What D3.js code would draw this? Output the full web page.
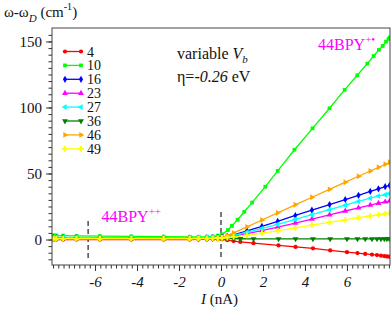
<!DOCTYPE html>
<html>
<head>
<meta charset="utf-8">
<script src="https://cdn.jsdelivr.net/npm/d3@7"></script>
<style>
  body { margin: 0; background: #fff; }
  text { font-family: "Liberation Serif", "Times New Roman", serif; }
</style>
</head>
<body>
<div id="chart"></div>
<script>
// series names (legend) and colours
var names = ["4", "10", "16", "23", "27", "36", "46", "49"]
var colors = ["#ff0000", "#00ff00", "#0000ff", "#ff00ff", "#00ffff", "#008000", "#ffa500", "#ffff00"]
var shapes = ["circle", "square", "diamond", "triUp", "triLeft", "triDown", "triRight", "plus"]

// current values (nA)
var iNeg = [-7.97, -7.84, -7.52, -6.88, -5.77, -4.27, -2.73, -1.49, -1.07, -0.67, -0.4, -0.15]
var iPosGreen = [0.05, 0.33, 0.52, 0.79, 1.11, 1.48, 2.11, 2.70, 3.50, 4.36, 5.17, 5.89, 6.49, 6.97, 7.27, 7.52, 7.70, 7.86, 7.98, 8.04]
var iPosMid = [0.05, 0.3, 0.6, 1.24, 1.95, 2.7, 3.54, 4.33, 5.17, 5.92, 6.55, 7.11, 7.5, 7.82, 8.03]
var iPosFlat = [0.05, 0.3, 0.6, 0.92, 1.55, 2.74, 3.55, 4.38, 5.2, 6.0, 6.5, 6.87, 7.19, 7.43, 7.62, 7.78, 7.9, 8.01]

// shift omega - omega_D (cm-1), negative side then positive side
var neg4  = [0.0, 0.0, 0.0, 0.0, 0.0, 0.0, 0.0, 0.0, 0.1, 0.1, 0.2, 0.2]
var neg10 = [3.2, 3.1, 3.0, 2.8, 2.6, 2.4, 2.2, 2.0, 2.0, 2.1, 2.4, 3.0]
var neg16 = [1.2, 1.2, 1.2, 1.1, 1.1, 1.1, 1.1, 1.1, 1.1, 1.2, 1.3, 1.4]
var neg23 = [1.0, 1.0, 1.0, 1.0, 1.0, 1.0, 1.0, 1.0, 1.0, 1.1, 1.2, 1.3]
var neg27 = [1.6, 1.6, 1.6, 1.5, 1.5, 1.5, 1.5, 1.5, 1.5, 1.5, 1.5, 1.6]
var neg36 = [0.5, 0.5, 0.5, 0.5, 0.5, 0.5, 0.5, 0.5, 0.5, 0.6, 0.7, 0.8]
var neg46 = [0.5, 0.5, 0.5, 0.5, 0.5, 0.5, 0.6, 0.6, 0.6, 0.7, 0.9, 1.2]
var neg49 = [0.7, 0.7, 0.7, 0.7, 0.7, 0.7, 0.7, 0.7, 0.8, 0.8, 0.9, 1.1]

var pos4  = [0.2, -0.5, -1.2, -1.8, -2.8, -4.5, -5.6, -6.7, -8.3, -9.6, -10.3, -10.9, -11.4, -11.8, -12.2, -12.5, -12.8, -13.0]
var pos10 = [3.9, 7.2, 10.3, 15, 21, 28, 40, 52, 68, 84.2, 99.4, 113.3, 124.4, 133.2, 139.0, 143.6, 146.6, 149.9, 151.9, 153]
var pos16 = [1.6, 2.4, 3.6, 6.6, 10.0, 13.8, 18.2, 22.2, 26.5, 30.3, 33.5, 36.4, 38.4, 40.0, 41.0]
var pos23 = [1.4, 1.9, 2.6, 4.5, 6.8, 9.4, 12.5, 15.5, 18.7, 21.6, 24.0, 26.1, 27.5, 28.5, 29.1]
var pos27 = [1.6, 2.2, 3.1, 5.5, 8.3, 11.5, 15.3, 18.8, 22.6, 26.0, 28.8, 31.3, 32.9, 34.0, 34.8]
var pos36 = [0.8, 0.7, 0.6, 0.6, 0.5, 0.5, 0.5, 0.5, 0.5, 0.5, 0.5, 0.5, 0.5, 0.5, 0.5, 0.5, 0.5, 0.6]
var pos46 = [1.5, 3.0, 5.0, 9.6, 14.8, 20.2, 26.3, 32.0, 38.0, 43.4, 47.9, 51.9, 54.7, 57.0, 58.5]
var pos49 = [1.2, 1.5, 2.0, 3.2, 4.8, 6.6, 8.8, 10.9, 13.0, 14.9, 16.5, 17.9, 18.8, 19.5, 20.0]

var negVals = [neg4, neg10, neg16, neg23, neg27, neg36, neg46, neg49]
var posVals = [pos4, pos10, pos16, pos23, pos27, pos36, pos46, pos49]
var posX = [iPosFlat, iPosGreen, iPosMid, iPosMid, iPosMid, iPosFlat, iPosMid, iPosMid]

var xTicks = [-6, -4, -2, 0, 2, 4, 6]
var yTicks = [0, 50, 100, 150]

var width = 392, height = 317
var plotL = 52, plotR = 390, plotT = 28, plotB = 265

var svg = d3.select("#chart").append("svg")
  .attr("width", width)
  .attr("height", height)

var x = d3.scaleLinear().domain([-8.05, 8.05]).range([plotL, plotR])
var y = d3.scaleLinear().domain([-19.3, 160.2]).range([plotB, plotT])

svg.append("clipPath").attr("id", "clip")
  .append("rect").attr("x", plotL).attr("y", plotT)
  .attr("width", plotR - plotL).attr("height", plotB - plotT)

// dashed markers at 0 and at the -6.33 nA transition
svg.append("line")
  .attr("x1", x(0)).attr("x2", x(0))
  .attr("y1", 212).attr("y2", 259)
  .attr("stroke", "#222").attr("stroke-width", 1.2)
  .attr("stroke-dasharray", "5,3")
svg.append("line")
  .attr("x1", x(-6.33)).attr("x2", x(-6.33))
  .attr("y1", 221).attr("y2", 259)
  .attr("stroke", "#222").attr("stroke-width", 1.2)
  .attr("stroke-dasharray", "5,3")

// symbol builder
var symbolPath = function(shape, cx, cy) {
  var g = d3.symbol()
  var rot = 0
  if (shape == "circle") g.type(d3.symbolCircle).size(14)
  else if (shape == "square") g.type(d3.symbolSquare).size(14)
  else if (shape == "diamond") g.type(d3.symbolDiamond).size(15)
  else if (shape == "plus") g.type(d3.symbolCross).size(18)
  else {
    g.type(d3.symbolTriangle).size(15)
    if (shape == "triLeft") rot = -90
    if (shape == "triDown") rot = 180
    if (shape == "triRight") rot = 90
  }
  return { d: g(), t: "translate(" + cx + "," + cy + ") rotate(" + rot + ")" }
}

var plot = svg.append("g").attr("clip-path", "url(#clip)")
var line = d3.line().x(function(d) { return x(d[0]) }).y(function(d) { return y(d[1]) })

for (var s = 0; s < names.length; s++) {
  var pts = []
  for (var i = 0; i < iNeg.length; i++) pts.push([iNeg[i], negVals[s][i]])
  for (var j = 0; j < posX[s].length; j++) pts.push([posX[s][j], posVals[s][j]])
  plot.append("path").datum(pts)
    .attr("fill", "none")
    .attr("stroke", colors[s])
    .attr("stroke-width", 1.3)
    .attr("d", line)
  pts.forEach(function(p) {
    var sym = symbolPath(shapes[s], x(p[0]), y(p[1]))
    plot.append("path").attr("d", sym.d).attr("transform", sym.t)
      .attr("fill", colors[s])
  })
}

// frame and axes
svg.append("rect")
  .attr("x", plotL).attr("y", plotT)
  .attr("width", plotR - plotL).attr("height", plotB - plotT)
  .attr("fill", "none").attr("stroke", "#444").attr("stroke-width", 1)

var xAxis = svg.append("g").attr("transform", "translate(0," + plotB + ")")
xAxis.call(d3.axisBottom(x).tickValues(d3.range(-8, 8.01, 0.25)).tickSize(3.5).tickFormat(""))
xAxis.select(".domain").remove()
var xMaj = svg.append("g").attr("transform", "translate(0," + plotB + ")")
  .call(d3.axisBottom(x).tickValues(xTicks).tickSize(6).tickPadding(5)
    .tickFormat(function(d) { return d }))
xMaj.select(".domain").remove()
xMaj.selectAll("text").attr("font-size", 15).attr("font-style", "italic")
  .attr("font-family", "Liberation Serif").attr("fill", "#111")

var yAxis = svg.append("g").attr("transform", "translate(" + plotL + ",0)")
yAxis.call(d3.axisLeft(y).tickValues(d3.range(-15, 160, 5)).tickSize(3.5).tickFormat(""))
yAxis.select(".domain").remove()
var yMaj = svg.append("g").attr("transform", "translate(" + plotL + ",0)")
  .call(d3.axisLeft(y).tickValues(yTicks).tickSize(6).tickPadding(4))
yMaj.select(".domain").remove()
yMaj.selectAll("text").attr("font-size", 15)
  .attr("font-family", "Liberation Serif").attr("fill", "#111")
svg.selectAll(".tick line").attr("stroke", "#333")

// axis titles
var yt = svg.append("text").attr("x", 4).attr("y", 17).attr("font-size", 15).attr("fill", "#111")
yt.append("tspan").text("ω-ω")
yt.append("tspan").text("D").attr("font-style", "italic").attr("font-size", 11).attr("dy", 5)
yt.append("tspan").text(" (cm").attr("dy", -5)
yt.append("tspan").text("-1").attr("font-size", 10).attr("dy", -7)
yt.append("tspan").text(")").attr("dy", 7)

var xt = svg.append("text").attr("x", 201).attr("y", 304).attr("font-size", 15).attr("fill", "#111")
xt.append("tspan").text("I").attr("font-style", "italic")
xt.append("tspan").text(" (nA)")

// annotations
var a1 = svg.append("text").attr("x", 177).attr("y", 59).attr("font-size", 16).attr("fill", "#111")
a1.append("tspan").text("variable ")
a1.append("tspan").text("V").attr("font-style", "italic")
a1.append("tspan").text("b").attr("font-style", "italic").attr("font-size", 11).attr("dy", 4)

var a2 = svg.append("text").attr("x", 177).attr("y", 81.5).attr("font-size", 16).attr("fill", "#111")
a2.append("tspan").text("η=")
a2.append("tspan").text("-0.26").attr("font-style", "italic")
a2.append("tspan").text(" eV")

var b1 = svg.append("text").attr("x", 318).attr("y", 50).attr("font-size", 16).attr("fill", "#ff00ff")
b1.append("tspan").text("44BPY")
b1.append("tspan").text("+•").attr("font-size", 11).attr("dy", -7)

var b2 = svg.append("text").attr("x", 101.5).attr("y", 221.5).attr("font-size", 16).attr("fill", "#ff00ff")
b2.append("tspan").text("44BPY")
b2.append("tspan").text("++").attr("font-size", 11).attr("dy", -7)

// legend
var legend = svg.append("g")
for (var k = 0; k < names.length; k++) {
  var ly = 51.5 + k * 13.9
  legend.append("line").attr("x1", 65).attr("x2", 81).attr("y1", ly).attr("y2", ly)
    .attr("stroke", colors[k]).attr("stroke-width", 1.3)
  ;[65, 81].forEach(function(lx) {
    var sym = symbolPath(shapes[k], lx, ly)
    legend.append("path").attr("d", sym.d).attr("transform", sym.t).attr("fill", colors[k])
  })
  legend.append("text").attr("x", 87).attr("y", ly + 5)
    .attr("font-size", 14).attr("fill", "#111").text(names[k])
}
</script>
</body>
</html>
